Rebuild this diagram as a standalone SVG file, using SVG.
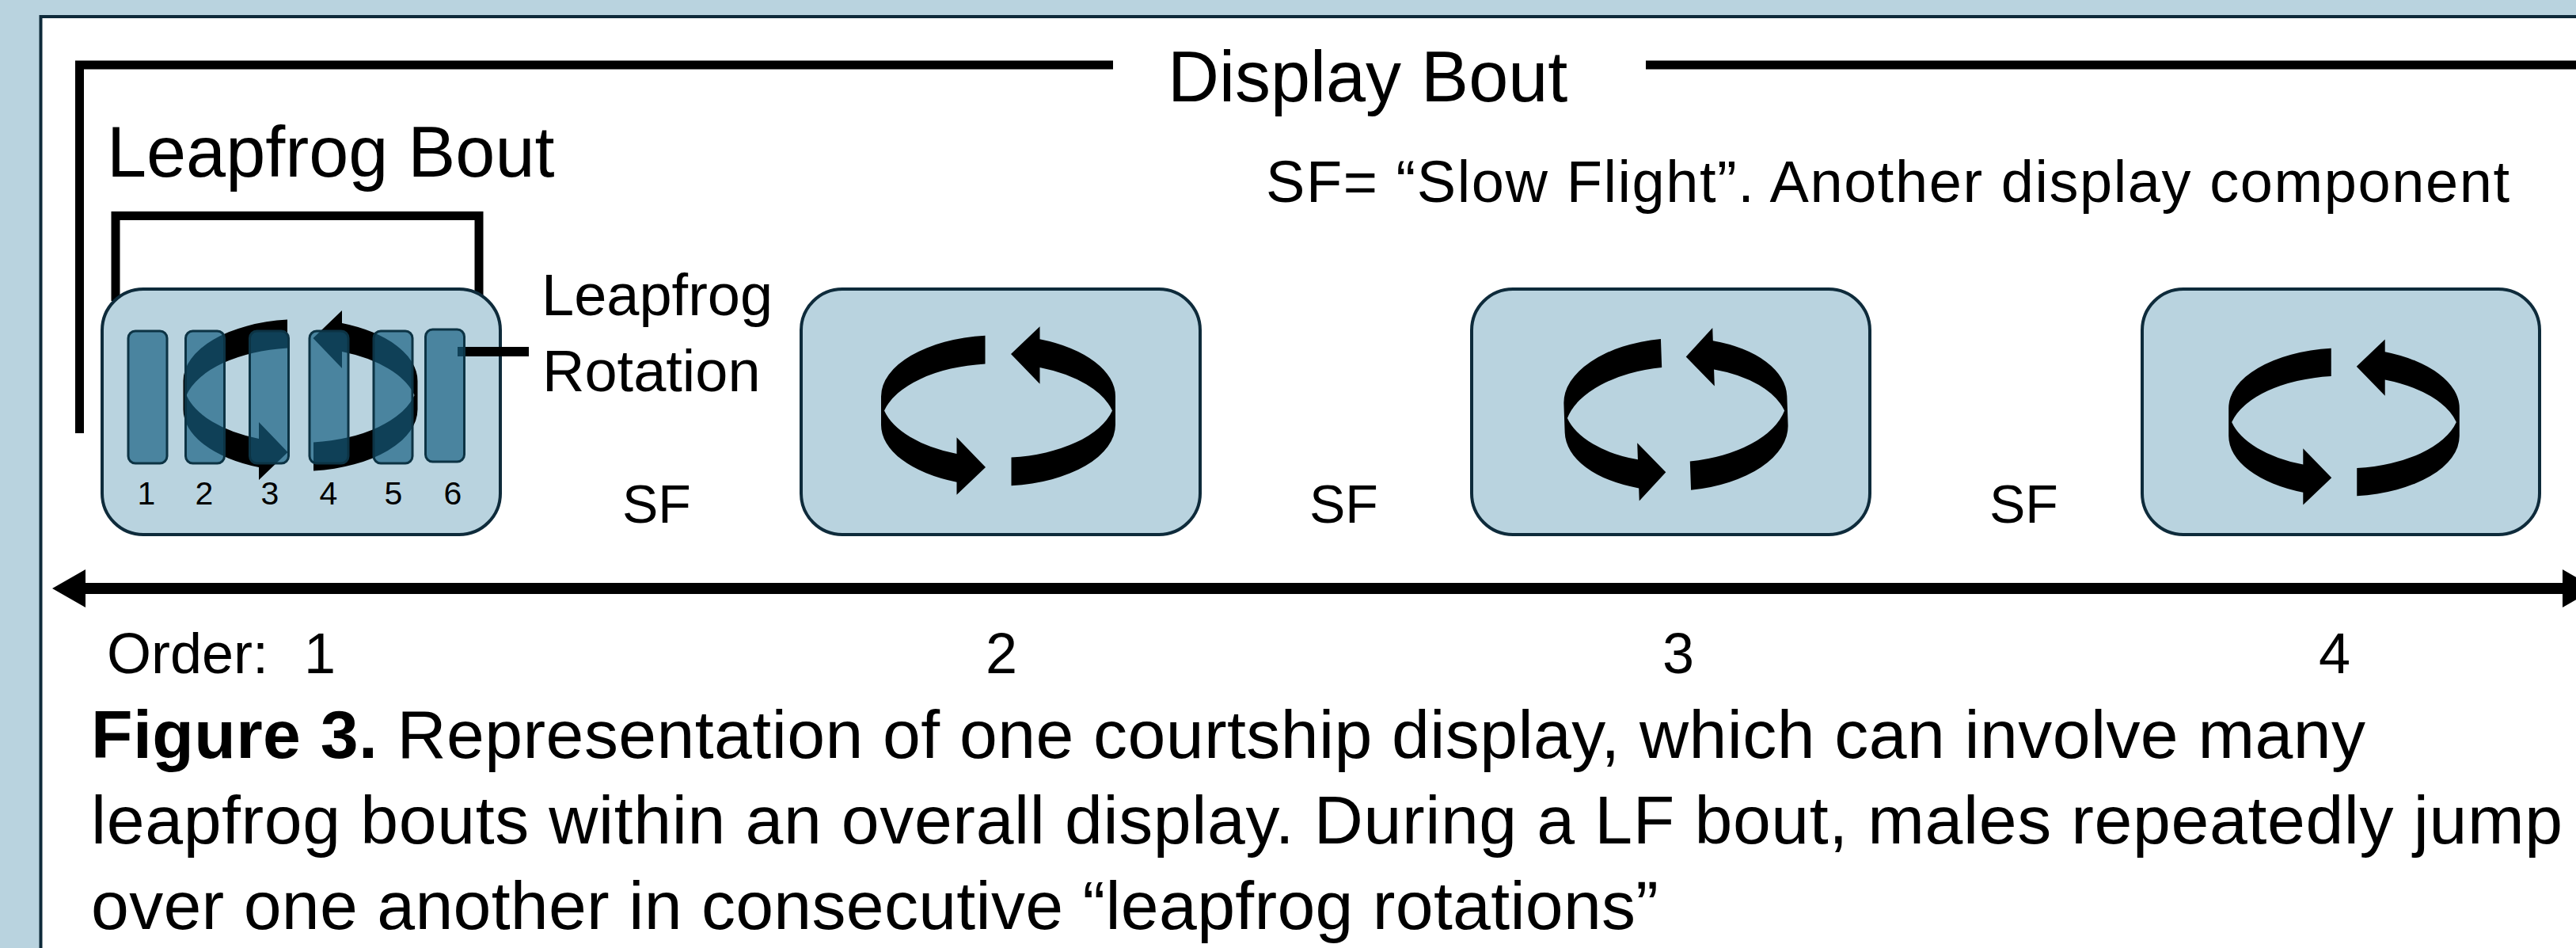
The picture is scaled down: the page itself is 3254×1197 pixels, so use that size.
<svg xmlns="http://www.w3.org/2000/svg" width="3254" height="1197" viewBox="0 0 3254 1197">
<defs>
<style>
.t{font-family:"Liberation Sans",Arial,Helvetica,sans-serif;fill:#000}
.box{fill:#B9D3DF;stroke:#0E2B3B;stroke-width:4}
.bar{fill:#165E80;fill-opacity:0.68;stroke:#0C3344;stroke-width:3}
.br{stroke:#000;stroke-width:11;fill:none}
.icon{fill:#000}
</style>
<path id="half" d="M-16.5,-95.51 A148,78 0 0 0 -148,-18 L-148,18 A148,78 0 0 0 -52.5,90.93 L-52.5,107 L-16,72 L-52.5,34 L-52.5,54.93 A148,78 0 0 1 -144,0 A148,78 0 0 1 -16.5,-59.51 Z"/>
<g id="rot" class="icon"><use href="#half"/><use href="#half" transform="rotate(180)"/></g>
<marker id="ah" markerUnits="userSpaceOnUse" viewBox="0 0 42 48" markerWidth="42" markerHeight="48" refX="0" refY="24" orient="auto-start-reverse">
<path d="M0,0 L42,24 L0,48 Z" fill="#000"/>
</marker>
</defs>
<rect x="0" y="0" width="3254" height="1197" fill="#B9D3DF"/>
<rect x="51.5" y="21" width="3300" height="1300" fill="#FFFFFF" stroke="#0E2A3A" stroke-width="4"/>

<g id="connectors">
<path class="br" d="M100.5,547 V82 H1406 M2079,82 H3300"/>
<path class="br" d="M146,380 V272.5 H605 V380"/>
<line x1="108" y1="743" x2="3237" y2="743" stroke="#000" stroke-width="14" marker-start="url(#ah)" marker-end="url(#ah)"/>
</g>

<g id="labels">
<text class="t" x="1475" y="128" font-size="90">Display Bout</text>
<text class="t" x="135" y="223" font-size="90">Leapfrog Bout</text>
<text class="t" x="1599" y="255" font-size="74" textLength="1571" lengthAdjust="spacing">SF= “Slow Flight”. Another display component</text>
<text class="t" x="786" y="660" font-size="68">SF</text>
<text class="t" x="1654" y="660" font-size="68">SF</text>
<text class="t" x="2513" y="660" font-size="68">SF</text>
<text class="t" x="135" y="850" font-size="72">Order:<tspan x="384">1</tspan></text>
<text class="t" x="1265" y="850" font-size="72" text-anchor="middle">2</text>
<text class="t" x="2120" y="850" font-size="72" text-anchor="middle">3</text>
<text class="t" x="2949" y="850" font-size="72" text-anchor="middle">4</text>
</g>

<g id="node-leapfrog-bout">
<rect class="box" x="129" y="365" width="503" height="310" rx="52"/>
<use href="#rot" transform="translate(379.5,499)"/>
<line x1="578" y1="444" x2="668" y2="444" stroke="#000" stroke-width="12"/>
<rect class="bar" x="162" y="418" width="49" height="167" rx="9"/>
<rect class="bar" x="234.5" y="418" width="49" height="167" rx="9"/>
<rect class="bar" x="315.5" y="418" width="49" height="167" rx="9"/>
<rect class="bar" x="391" y="418" width="49" height="167" rx="9"/>
<rect class="bar" x="472" y="418" width="49" height="167" rx="9"/>
<rect class="bar" x="537.5" y="416" width="49" height="167" rx="9"/>
<g class="t" font-size="41" text-anchor="middle">
<text x="185" y="637">1</text>
<text x="258" y="637">2</text>
<text x="341" y="637">3</text>
<text x="415" y="637">4</text>
<text x="497" y="637">5</text>
<text x="572" y="637">6</text>
</g>
<text class="t" x="684" y="398" font-size="74">Leapfrog</text>
<text class="t" x="685" y="494" font-size="74">Rotation</text>
</g>

<g id="node-2">
<rect class="box" x="1012" y="365" width="504" height="310" rx="52"/>
<use href="#rot" transform="translate(1261,518.5) scale(1,0.993)"/>
</g>
<g id="node-3">
<rect class="box" x="1859" y="365" width="503" height="310" rx="52"/>
<use href="#rot" transform="translate(2117,523.3) rotate(-2) scale(0.953,1.005)"/>
</g>
<g id="node-4">
<rect class="box" x="2706" y="365" width="502" height="310" rx="52"/>
<use href="#rot" transform="translate(2961,533) scale(0.985,0.976)"/>
</g>

<g id="caption" class="t" font-size="86">
<text x="115" y="957" textLength="2873" lengthAdjust="spacing"><tspan font-weight="bold">Figure 3.</tspan> Representation of one courtship display, which can involve many</text>
<text x="115" y="1065" textLength="3122" lengthAdjust="spacing">leapfrog bouts within an overall display. During a LF bout, males repeatedly jump</text>
<text x="115" y="1173" textLength="1980" lengthAdjust="spacing">over one another in consecutive “leapfrog rotations”</text>
</g>
</svg>
